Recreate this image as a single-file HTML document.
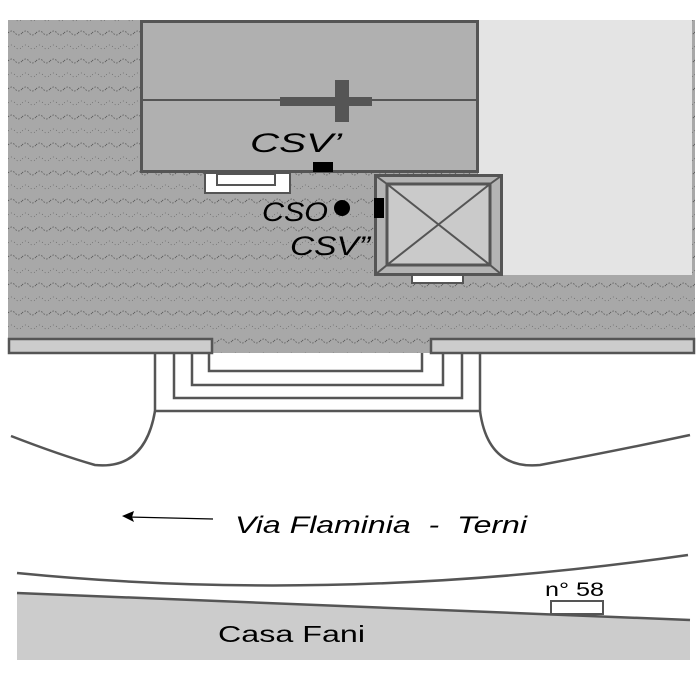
<!DOCTYPE html>
<html><head><meta charset="utf-8"><style>
html,body{margin:0;padding:0;background:#fff;}
svg{display:block;}
text{font-family:"Liberation Sans",sans-serif;}
</style></head><body>
<svg width="700" height="700" viewBox="0 0 700 700" xmlns="http://www.w3.org/2000/svg">
<defs>
<pattern id="wv" x="8" y="26" width="14" height="28" patternUnits="userSpaceOnUse">
<path d="M0 7 Q3.5 3 7 7 T14 7" fill="none" stroke="#555" stroke-width="0.8" stroke-dasharray="1.5 1.5"/>
<path d="M0 21 Q3.5 17 7 21 T14 21" fill="none" stroke="#666" stroke-width="0.7" stroke-dasharray="1 2.5"/>
</pattern>
</defs>
<rect x="8" y="20" width="687" height="333" fill="#a8a8a8"/>
<rect x="8" y="20" width="687" height="333" fill="url(#wv)"/>
<rect x="478" y="20" width="214" height="255" fill="#e4e4e4"/>
<rect x="141.5" y="21.5" width="336" height="150" fill="#b0b0b0" stroke="#555" stroke-width="3"/>
<line x1="141" y1="100" x2="478" y2="100" stroke="#555" stroke-width="2"/>
<rect x="280" y="97" width="92" height="9" fill="#555"/>
<rect x="335" y="80" width="14" height="42" fill="#555"/>
<text x="250" y="152" font-size="27" font-style="italic" fill="#000" textLength="92" lengthAdjust="spacingAndGlyphs">CSV’</text>
<rect x="313" y="162" width="20" height="10" fill="#000"/>
<rect x="205" y="173" width="85" height="20" fill="#fff" stroke="#555" stroke-width="2"/>
<rect x="217" y="174" width="58" height="11" fill="#fff" stroke="#555" stroke-width="2"/>
<text x="262" y="221" font-size="27" font-style="italic" fill="#000" textLength="66" lengthAdjust="spacingAndGlyphs">CSO</text>
<circle cx="342" cy="208" r="8" fill="#000"/>
<text x="290" y="255" font-size="27" font-style="italic" fill="#000" textLength="80" lengthAdjust="spacingAndGlyphs">CSV”</text>
<rect x="412" y="273" width="51" height="10" fill="#fff" stroke="#555" stroke-width="2"/>
<rect x="375.5" y="175.5" width="126" height="99" fill="#b4b4b4" stroke="#555" stroke-width="3"/>
<rect x="387" y="184" width="103" height="81" fill="#cacaca" stroke="#555" stroke-width="3"/>
<g stroke="#555" stroke-width="2">
<line x1="376" y1="176" x2="387" y2="184"/><line x1="501" y1="176" x2="490" y2="184"/>
<line x1="376" y1="274" x2="387" y2="265"/><line x1="501" y1="274" x2="490" y2="265"/>
<line x1="387" y1="184" x2="490" y2="265"/><line x1="490" y1="184" x2="387" y2="265"/>
</g>
<rect x="374" y="198" width="10" height="20" fill="#000"/>
<rect x="0" y="353" width="700" height="100" fill="#fff"/>
<rect x="9" y="339" width="203" height="14" fill="#cccccc" stroke="#555" stroke-width="2.5"/>
<rect x="431" y="339" width="263" height="14" fill="#cccccc" stroke="#555" stroke-width="2.5"/>
<g fill="none" stroke="#555" stroke-width="2.5">
<path d="M155 353 V411 H480 V353"/>
<path d="M174 353 V398 H462 V353"/>
<path d="M192 353 V385 H443 V353"/>
<path d="M209 353 V371 H422 V353"/>
</g>
<g fill="none" stroke="#555" stroke-width="2.5">
<path d="M11 436 Q60 455 95 465 Q145 470 155 411"/>
<path d="M480 411 Q488 470 540 465 Q620 450 690 435"/>
<path d="M17 573 Q340 605 688 555"/>
</g>
<line x1="128" y1="517" x2="213" y2="519" stroke="#000" stroke-width="1.2"/>
<path d="M122 516 L134 511 L132 517 L134 522 Z" fill="#000"/>
<text x="235" y="533" font-size="24" font-style="italic" fill="#000" xml:space="preserve" textLength="292" lengthAdjust="spacingAndGlyphs">Via Flaminia  -  Terni</text>
<path d="M17 593 L690 620 L690 660 L17 660 Z" fill="#cccccc"/>
<rect x="551" y="601" width="52" height="13" fill="#fff" stroke="#555" stroke-width="2"/>
<line x1="17" y1="593" x2="690" y2="620" stroke="#555" stroke-width="2.5"/>
<text x="545" y="596" font-size="19" fill="#000" textLength="59" lengthAdjust="spacingAndGlyphs">n° 58</text>
<text x="218" y="642" font-size="23" fill="#000" textLength="147" lengthAdjust="spacingAndGlyphs">Casa Fani</text>
</svg>
</body></html>
